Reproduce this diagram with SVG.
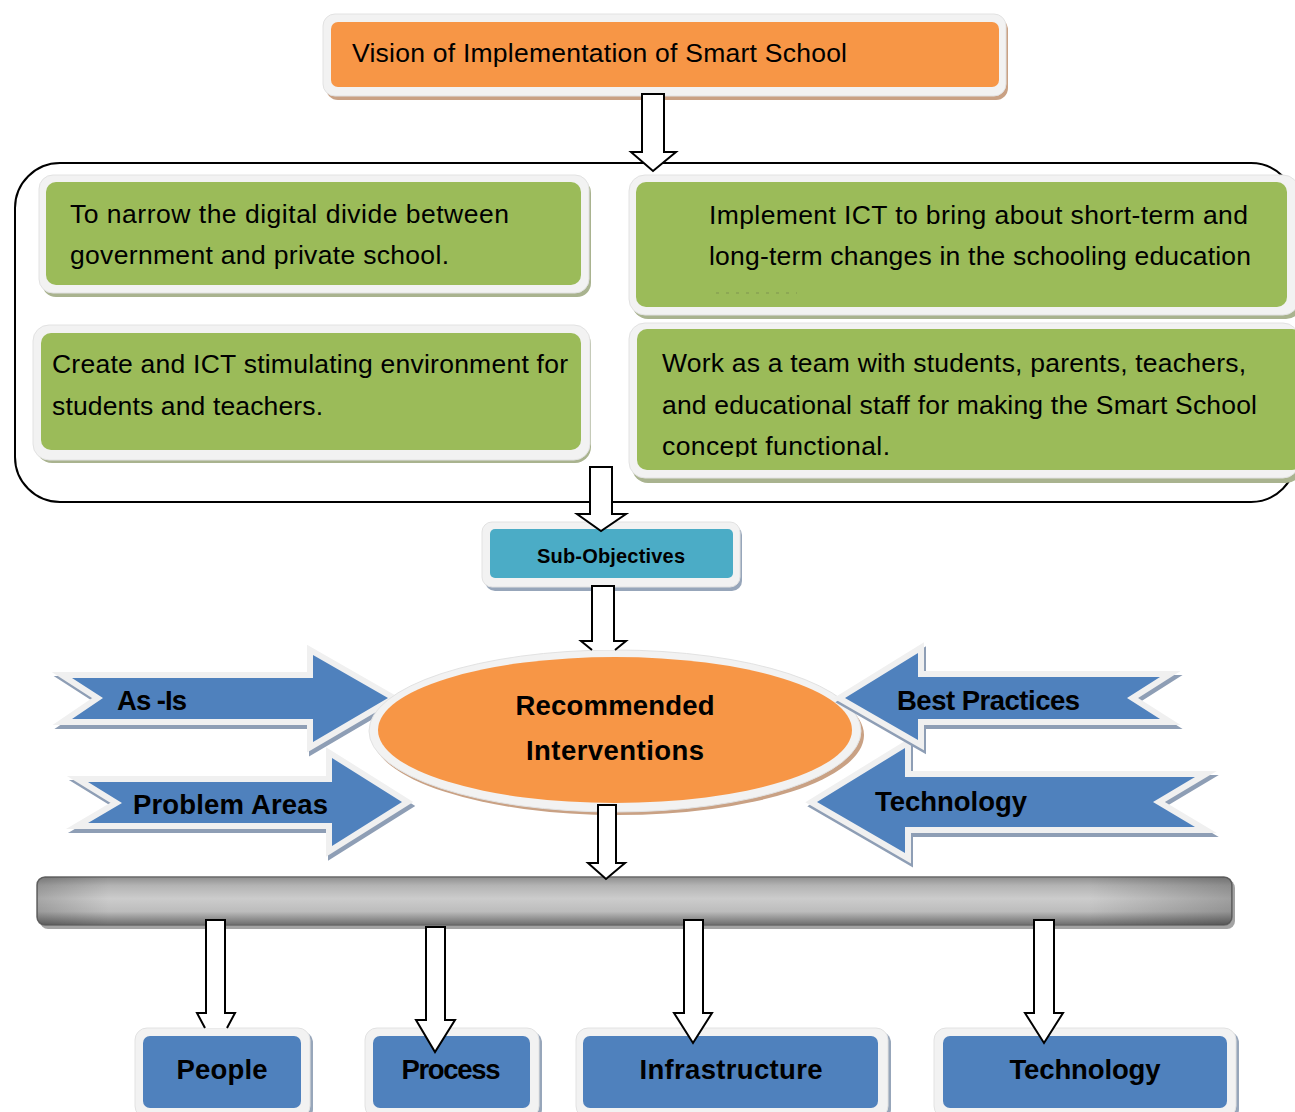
<svg xmlns="http://www.w3.org/2000/svg" width="1295" height="1112" viewBox="0 0 1295 1112">
<style>
.frame{fill:#f2f2f2;stroke:#e2e2e2;stroke-width:1}
.shO{fill:#c9a184}
.shG{fill:#a9b38f}
.shB{fill:#97a6ba}
.orange{fill:#F79646}
.green{fill:#9BBB59}
.blue{fill:#4F81BD}
.teal{fill:#4BACC6}
.conn{fill:#ffffff;stroke:#000000;stroke-width:2;stroke-linejoin:miter}
.barr{fill:#4F81BD;stroke:#f0f0f0;stroke-width:12;stroke-linejoin:miter;stroke-miterlimit:10;paint-order:stroke}
.barrsh{fill:#8e9eb5;stroke:#8e9eb5;stroke-width:12;stroke-linejoin:miter;stroke-miterlimit:10}
.t{font-family:"Liberation Sans",Arial,sans-serif;font-size:26.5px;fill:#000000}
.b{font-family:"Liberation Sans",Arial,sans-serif;font-weight:bold;font-size:27.5px;fill:#000000}
</style>
<defs>
<linearGradient id="barV" x1="0" y1="0" x2="0" y2="1">
<stop offset="0" stop-color="#8f8f8f"/>
<stop offset="0.18" stop-color="#b4b4b4"/>
<stop offset="0.45" stop-color="#cccccc"/>
<stop offset="0.72" stop-color="#bcbcbc"/>
<stop offset="1" stop-color="#6c6c6c"/>
</linearGradient>
<linearGradient id="barH" x1="0" y1="0" x2="1" y2="0">
<stop offset="0" stop-color="#000000" stop-opacity="0.18"/>
<stop offset="0.06" stop-color="#000000" stop-opacity="0"/>
<stop offset="0.88" stop-color="#000000" stop-opacity="0"/>
<stop offset="1" stop-color="#000000" stop-opacity="0.22"/>
</linearGradient>
<clipPath id="clip4"><rect x="637" y="329" width="660" height="128"/></clipPath>
</defs>

<g id="container">
<rect x="15" y="163" width="1281" height="339" rx="45" fill="none" stroke="#000000" stroke-width="2"/>
</g>

<g id="vision">
<rect class="shO" x="326" y="18" width="682" height="82" rx="12"/>
<rect class="frame" x="323" y="14" width="683" height="82" rx="12"/>
<rect class="orange" x="331" y="22" width="668" height="65" rx="7"/>
<text class="t" x="352" y="62" textLength="495">Vision of Implementation of Smart School</text>
</g>

<g id="obj1">
<rect class="shG" x="42" y="179" width="549" height="118" rx="14"/>
<rect class="frame" x="39" y="175" width="550" height="118" rx="14"/>
<rect class="green" x="46" y="182" width="535" height="103" rx="10"/>
<text class="t" x="70" y="223" textLength="439">To narrow the digital divide between</text>
<text class="t" x="70" y="264" textLength="379">government and private school.</text>
</g>

<g id="obj2">
<rect class="shG" x="632" y="179" width="670" height="140" rx="16"/>
<rect class="frame" x="629" y="175" width="670" height="140" rx="16"/>
<rect class="green" x="636" y="182" width="651" height="125" rx="10"/>
<text class="t" x="709" y="224" textLength="539">Implement ICT to bring about short-term and</text>
<text class="t" x="709" y="265" textLength="542">long-term changes in the schooling education</text>
<line x1="716" y1="293" x2="797" y2="293" stroke="#6f7f4a" stroke-width="1" stroke-dasharray="3,7" opacity="0.6"/>
</g>

<g id="obj3">
<rect class="shG" x="36" y="328" width="555" height="135" rx="16"/>
<rect class="frame" x="33" y="325" width="557" height="135" rx="16"/>
<rect class="green" x="41" y="333" width="540" height="117" rx="10"/>
<text class="t" x="52" y="373" textLength="516">Create and ICT stimulating environment for</text>
<text class="t" x="52" y="415" textLength="271">students and teachers.</text>
</g>

<g id="obj4">
<rect class="shG" x="632" y="327" width="670" height="156" rx="16"/>
<rect class="frame" x="629" y="323" width="670" height="155" rx="16"/>
<rect class="green" x="637" y="329" width="665" height="141" rx="10"/>
<text class="t" x="662" y="372" textLength="584">Work as a team with students, parents, teachers,</text>
<text class="t" x="662" y="414" textLength="595">and educational staff for making the Smart School</text>
<text class="t" x="662" y="455" textLength="228" clip-path="url(#clip4)">concept functional.</text>
</g>

<g id="subobjectives">
<rect class="shB" x="485" y="525" width="257" height="66" rx="10"/>
<rect class="frame" x="482" y="522" width="258" height="65" rx="10"/>
<rect class="teal" x="490" y="529" width="243" height="49" rx="5"/>
<text class="b" x="611" y="563" text-anchor="middle" style="font-size:20px" textLength="148">Sub-Objectives</text>
</g>

<g id="as-is">
<polygon class="barrsh" transform="translate(2,4)" points="72,678 313,678 313,655 388,698 313,742 313,719 72,719 103,698"/>
<polygon class="barr" points="72,678 313,678 313,655 388,698 313,742 313,719 72,719 103,698"/>
<text class="b" x="117" y="710" textLength="70">As -Is</text>
</g>

<g id="problem-areas">
<polygon class="barrsh" transform="translate(2,4)" points="88,782 332,782 332,758 402,802 332,846 332,823 88,823 122,803"/>
<polygon class="barr" points="88,782 332,782 332,758 402,802 332,846 332,823 88,823 122,803"/>
<text class="b" x="133" y="814" textLength="195">Problem Areas</text>
</g>

<g id="recommended">
<ellipse class="shO" cx="618" cy="735" rx="246" ry="80"/>
<ellipse class="frame" cx="615" cy="731" rx="246" ry="81"/>
<ellipse class="orange" cx="615" cy="730" rx="237" ry="73"/>
<text class="b" x="615" y="715" text-anchor="middle" textLength="199">Recommended</text>
<text class="b" x="615" y="760" text-anchor="middle" textLength="178">Interventions</text>
</g>

<g id="technology-arrow">
<polygon class="barrsh" transform="translate(2,4)" points="817,802 905,748 905,777 1195,777 1153,802 1195,827 905,827 905,853"/>
<polygon class="barr" points="817,802 905,748 905,777 1195,777 1153,802 1195,827 905,827 905,853"/>
<text class="b" x="875" y="811" textLength="152">Technology</text>
</g>

<g id="best-practices">
<polygon class="barrsh" transform="translate(2,4)" points="845,698 918,653 918,677 1160,677 1127,698 1160,719 918,719 918,740"/>
<polygon class="barr" points="845,698 918,653 918,677 1160,677 1127,698 1160,719 918,719 918,740"/>
<text class="b" x="897" y="710" textLength="183">Best Practices</text>
</g>

<g id="bar">
<rect x="40" y="880" width="1195" height="49" rx="8" fill="#a3a3a3"/>
<rect x="37" y="877" width="1195" height="48" rx="8" fill="url(#barV)" stroke="#6a6a6a" stroke-width="1.5"/>
<rect x="37" y="877" width="1195" height="48" rx="8" fill="url(#barH)"/>
</g>

<g id="people">
<rect class="shB" x="138" y="1031" width="175" height="90" rx="12"/>
<rect class="frame" x="135" y="1028" width="175" height="90" rx="12"/>
<rect class="blue" x="143" y="1036" width="158" height="72" rx="7"/>
<text class="b" x="222" y="1079" text-anchor="middle" textLength="91">People</text>
</g>

<g id="process">
<rect class="shB" x="368" y="1031" width="174" height="90" rx="12"/>
<rect class="frame" x="365" y="1028" width="174" height="90" rx="12"/>
<rect class="blue" x="373" y="1036" width="157" height="72" rx="7"/>
<text class="b" x="451" y="1079" text-anchor="middle" textLength="99">Process</text>
</g>

<g id="infrastructure">
<rect class="shB" x="579" y="1031" width="312" height="90" rx="12"/>
<rect class="frame" x="576" y="1028" width="312" height="90" rx="12"/>
<rect class="blue" x="583" y="1036" width="295" height="72" rx="7"/>
<text class="b" x="731" y="1079" text-anchor="middle" textLength="183">Infrastructure</text>
</g>

<g id="technology">
<rect class="shB" x="937" y="1031" width="302" height="90" rx="12"/>
<rect class="frame" x="934" y="1028" width="302" height="90" rx="12"/>
<rect class="blue" x="943" y="1036" width="284" height="72" rx="7"/>
<text class="b" x="1085" y="1079" text-anchor="middle" textLength="151">Technology</text>
</g>

<g id="connectors">
<polygon class="conn" points="642,94 664,94 664,152 676,152 653,171 631,152 642,152"/>
<polygon class="conn" points="590,467 612,467 612,514 626,514 601,531 577,514 590,514"/>
<path class="conn" d="M592,650 L581,641 L592,641 L592,586 L614,586 L614,641 L626,641 L615,650"/>
<polygon class="conn" points="598,805 616,805 616,863 625,863 606,879 588,863 598,863"/>
<path class="conn" d="M205,1028 L197,1013 L206,1013 L206,920 L225,920 L225,1013 L235,1013 L227,1028"/>
<polygon class="conn" points="426,927 445,927 445,1020 455,1020 435,1052 416,1020 426,1020"/>
<polygon class="conn" points="684,920 703,920 703,1013 712,1013 693,1043 674,1013 684,1013"/>
<polygon class="conn" points="1034,920 1054,920 1054,1013 1063,1013 1044,1043 1025,1013 1034,1013"/>
</g>
</svg>
